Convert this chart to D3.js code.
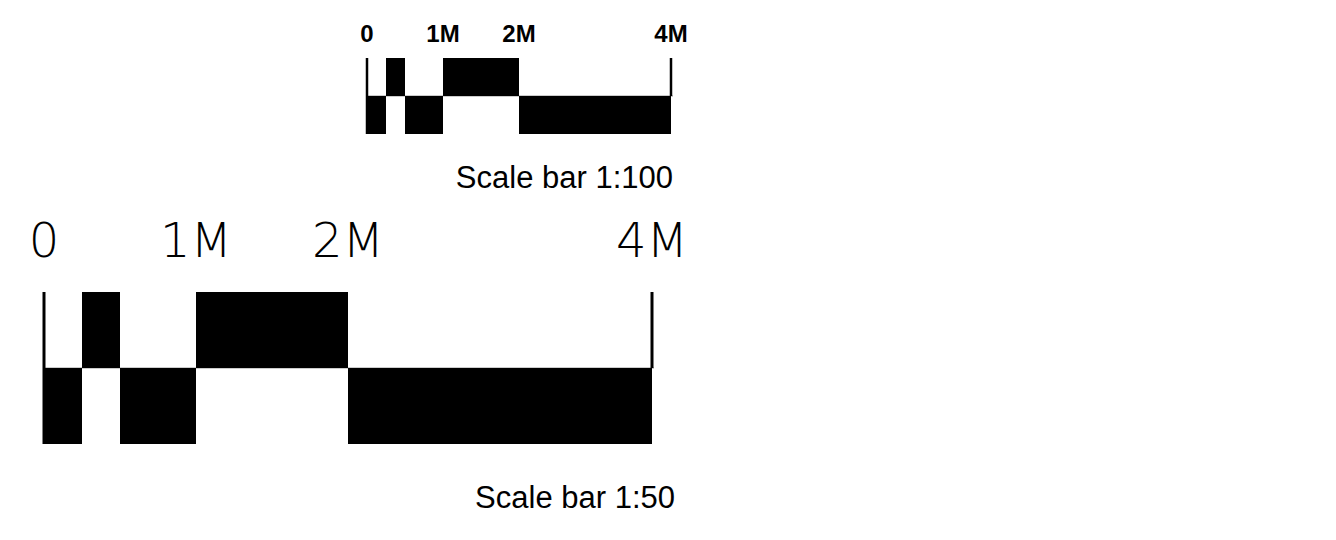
<!DOCTYPE html>
<html><head><meta charset="utf-8">
<script src="https://cdn.jsdelivr.net/npm/d3@7"></script>
<style>html,body{margin:0;padding:0;background:#fff;}svg{display:block;}</style>
</head><body>
<svg id="chart" width="1336" height="540"></svg>
<script>
// Data
const tickValues = [0, 1, 2, 4];               // millions
const tickLabels = ["0", "1M", "2M", "4M"];
const segStart = [0, 0.25, 0.5, 1, 2];
const segEnd   = [0.25, 0.5, 1, 2, 4];
const segRow   = ["bottom", "top", "bottom", "top", "bottom"];
const barTitles = ["Scale bar 1:100", "Scale bar 1:50"];

const svg = d3.select("#chart");

// layout for each scale bar
const layouts = [
  {x0: 367, x1: 671, yTop: 58, h: 76, labelY: 42, labelSize: 24, labelWeight: "bold", labelFamily: "'Liberation Sans', Arial, sans-serif", tickW: 2.5, titleX: 673, titleY: 188},
  {x0: 44, x1: 652, yTop: 292, h: 152, labelY: 257, labelSize: 48, labelWeight: 200, labelFamily: "'DejaVu Sans ExtraLight','DejaVu Sans', sans-serif", tickW: 3, titleX: 675, titleY: 508}
];

layouts.forEach((L, i) => {
  const x = d3.scaleLinear().domain([0, d3.max(tickValues)]).range([L.x0, L.x1]);
  const half = L.h / 2;
  const g = svg.append("g");

  // mid line
  g.append("line").attr("x1", x(0)).attr("x2", x(4) + 2)
    .attr("y1", L.yTop + half).attr("y2", L.yTop + half)
    .attr("stroke", "#999").attr("stroke-width", 1);

  // segments
  g.selectAll("rect.seg").data(segStart.map((s, k) => ({s, e: segEnd[k], row: segRow[k]})))
    .join("rect").attr("class", "seg")
    .attr("x", d => x(d.s)).attr("width", d => x(d.e) - x(d.s))
    .attr("y", d => d.row === "top" ? L.yTop : L.yTop + half)
    .attr("height", half)
    .attr("fill", "#000");

  // end ticks
  g.append("line").attr("x1", x(0)).attr("x2", x(0))
    .attr("y1", L.yTop).attr("y2", L.yTop + L.h)
    .attr("stroke", "#000").attr("stroke-width", L.tickW);
  g.append("line").attr("x1", x(4)).attr("x2", x(4))
    .attr("y1", L.yTop).attr("y2", L.yTop + half)
    .attr("stroke", "#000").attr("stroke-width", L.tickW);

  // labels
  g.selectAll("text.lab").data(tickValues).join("text").attr("class", "lab")
    .attr("x", d => x(d)).attr("y", L.labelY)
    .attr("text-anchor", "middle")
    .attr("font-family", L.labelFamily)
    .attr("font-weight", L.labelWeight)
    .attr("font-size", L.labelSize)
    .attr("fill", "#000")
    .text((d, k) => tickLabels[k]);

  // title
  g.append("text").attr("x", L.titleX).attr("y", L.titleY)
    .attr("text-anchor", "end")
    .attr("font-family", "'Liberation Sans', Arial, sans-serif")
    .attr("font-size", 31).attr("fill", "#000")
    .text(barTitles[i]);
});
</script>
</body></html>
